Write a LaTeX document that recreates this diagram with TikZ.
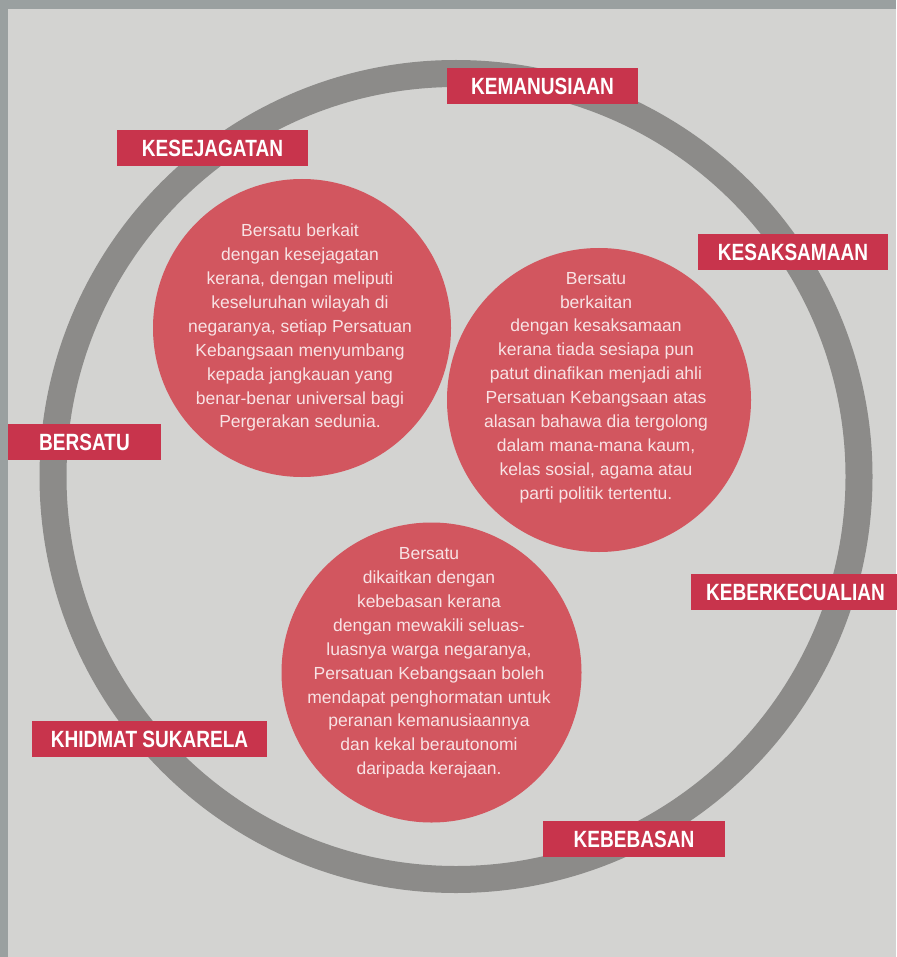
\documentclass[tikz,border=0pt]{standalone}
\usepackage{fontspec}
\setmainfont{Liberation Sans}
\newfontfamily\lblfont{Liberation Sans}[FakeStretch=0.81]
\definecolor{bgcol}{HTML}{D3D3D1}
\definecolor{framecol}{HTML}{9AA0A0}
\definecolor{ringcol}{HTML}{8C8B89}
\definecolor{disccol}{HTML}{D2565F}
\definecolor{tagcol}{HTML}{C8344C}
\definecolor{bodycol}{HTML}{F8E2E4}
\begin{document}
\begin{tikzpicture}[x=1pt,y=-1pt,
  tagbox/.style={fill=tagcol, text=white, font=\lblfont\bfseries\fontsize{23.5}{24}\selectfont,
    minimum height=36pt, inner sep=0pt, text height=16.8pt, text depth=0pt, anchor=center},
  discstyle/.style={circle, fill=disccol, draw=none, inner sep=0pt},
  bodytext/.style={text=bodycol, align=center, font=\fontsize{17.5}{23.9}\selectfont, inner sep=0pt, anchor=center}]
\useasboundingbox (0,0) rectangle (896,957);
\fill[bgcol] (0,0) rectangle (896,957);
\fill[framecol] (0,0) rectangle (896,9);
\fill[framecol] (0,0) rectangle (8,957);
% ring
\coordinate (ringc) at (456,476.5);
\draw[ringcol, line width=27pt] (ringc) circle[radius=403];
% discs
\node[discstyle, minimum size=298pt] (c1) at (302,328) {};
\node[discstyle, minimum size=304pt] (c2) at (599,400) {};
\node[discstyle, minimum size=300pt] (c3) at (431.5,672.5) {};
% texts
\node[bodytext] (t1) at (300,327.8) {Bersatu berkait\\dengan kesejagatan\\kerana, dengan meliputi\\keseluruhan wilayah di\\negaranya, setiap Persatuan\\Kebangsaan menyumbang\\kepada jangkauan yang\\benar-benar universal bagi\\Pergerakan sedunia.};
\node[bodytext] (t2) at (596,387.5) {Bersatu\\berkaitan\\dengan kesaksamaan\\kerana tiada sesiapa pun\\patut dinafikan menjadi ahli\\Persatuan Kebangsaan atas\\alasan bahawa dia tergolong\\dalam mana-mana kaum,\\kelas sosial, agama atau\\parti politik tertentu.};
\node[bodytext] (t3) at (429,663) {Bersatu\\dikaitkan dengan\\kebebasan kerana\\dengan mewakili seluas-\\luasnya warga negaranya,\\Persatuan Kebangsaan boleh\\mendapat penghormatan untuk\\peranan kemanusiaannya\\dan kekal berautonomi\\daripada kerajaan.};
% labels
\node[tagbox, minimum width=191pt] (l1) at (542.5,86) {KEMANUSIAAN};
\node[tagbox, minimum width=191pt] (l2) at (212.5,148) {KESEJAGATAN};
\node[tagbox, minimum width=190pt] (l3) at (793,252) {KESAKSAMAAN};
\node[tagbox, minimum width=153pt] (l4) at (84.5,442) {BERSATU};
\node[tagbox, minimum width=209pt] (l5) at (795.5,592) {KEBERKECUALIAN};
\node[tagbox, minimum width=235pt] (l6) at (149.5,739) {KHIDMAT SUKARELA};
\node[tagbox, minimum width=182pt] (l7) at (634,839) {KEBEBASAN};
\end{tikzpicture}
\end{document}
